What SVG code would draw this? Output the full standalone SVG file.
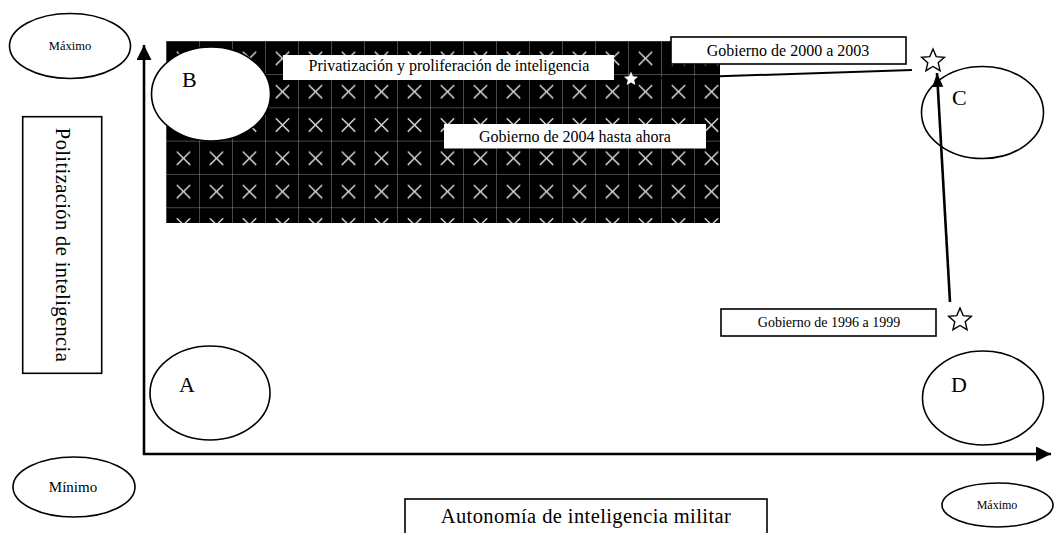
<svg xmlns="http://www.w3.org/2000/svg" width="1055" height="533" viewBox="0 0 1055 533">
<style>
text{font-family:"Liberation Serif","Times New Roman",serif;fill:#000}
.ol{fill:#fff;stroke:#000;stroke-width:1.6}
.box{fill:#fff;stroke:#000;stroke-width:1.6}
.wbox{fill:#fff;stroke:none}
.ax{stroke:#000;stroke-width:2.6;fill:none}
.big{font-size:22px}
.lbl{font-size:16px}
</style>
<defs>
<pattern id="grid" patternUnits="userSpaceOnUse" x="167" y="41.7" width="33" height="33.3">
<rect width="33" height="33.3" fill="#000"/>
<path d="M33 0V33.3M0 33.3H33" stroke="#a0a0a0" stroke-width="0.9"/>
<path d="M9.8 10L23.2 23.4M23.2 10L9.8 23.4" stroke="#d0d0d0" stroke-width="1.5"/>
</pattern>
<polygon id="star" points="0,-12 3.2,-4.4 11.41,-3.71 5.2,1.7 7.05,9.71 0,5.5 -7.05,9.71 -5.2,1.7 -11.41,-3.71 -3.2,-4.4"/>
<marker id="ah" markerUnits="userSpaceOnUse" markerWidth="16" markerHeight="16" refX="15" refY="7.5" orient="auto">
<path d="M0 0L15 7.5L0 15Z" fill="#000"/>
</marker>
<marker id="ah2" markerUnits="userSpaceOnUse" markerWidth="16" markerHeight="14" refX="14" refY="5.5" orient="auto">
<path d="M0 0L14 5.5L0 11Z" fill="#000"/>
</marker>
</defs>

<g id="region">
<rect x="166" y="41" width="554" height="182" fill="url(#grid)"/>
</g>

<g id="label-privatizacion">
<rect class="wbox" x="283" y="55" width="331" height="25"/>
<text class="lbl" x="449" y="70.5" text-anchor="middle">Privatización y proliferación de inteligencia</text>
</g>
<g id="label-2004">
<rect class="wbox" x="444" y="124" width="262" height="24.5"/>
<text class="lbl" x="575" y="141.5" text-anchor="middle">Gobierno de 2004 hasta ahora</text>
</g>
<g id="star-2004">
<use href="#star" transform="translate(631,79) scale(0.62)" fill="#fff"/>
</g>

<g id="connectors">
<line class="ax" x1="144" y1="455" x2="144" y2="45" marker-end="url(#ah)"/>
<line class="ax" x1="143" y1="454" x2="1051" y2="454" marker-end="url(#ah)"/>
<line x1="637" y1="79" x2="912" y2="70" stroke="#000" stroke-width="2"/>
<line x1="950" y1="302" x2="937" y2="73" stroke="#000" stroke-width="2.6" marker-end="url(#ah2)"/>
</g>

<g id="label-2000">
<rect class="box" x="671" y="37" width="235" height="27"/>
<text class="lbl" x="788" y="55.5" text-anchor="middle">Gobierno de 2000 a 2003</text>
</g>
<g id="star-2000">
<use href="#star" transform="translate(933,61)" fill="#fff" stroke="#000" stroke-width="1.4"/>
</g>
<g id="label-1996">
<rect class="box" x="721" y="309" width="215" height="27"/>
<text x="829" y="327" font-size="14" text-anchor="middle">Gobierno de 1996 a 1999</text>
</g>
<g id="star-1996">
<use href="#star" transform="translate(960,320)" fill="#fff" stroke="#000" stroke-width="1.4"/>
</g>

<g id="node-B">
<ellipse class="ol" cx="211" cy="94" rx="59.5" ry="47"/>
<text class="big" x="182" y="87">B</text>
</g>
<g id="node-A">
<ellipse cx="210" cy="393" rx="60" ry="47" fill="none" stroke="#000" stroke-width="1.6"/>
<text class="big" x="179" y="392">A</text>
</g>
<g id="node-C">
<ellipse cx="982.5" cy="112.5" rx="61" ry="46" fill="none" stroke="#000" stroke-width="1.6"/>
<text class="big" x="952" y="105">C</text>
</g>
<g id="node-D">
<ellipse cx="983" cy="398" rx="60.5" ry="47" fill="none" stroke="#000" stroke-width="1.6"/>
<text class="big" x="951" y="392">D</text>
</g>

<g id="max-y">
<ellipse class="ol" cx="70" cy="46" rx="60.5" ry="32.5"/>
<text x="70" y="50" font-size="12.5" text-anchor="middle">Máximo</text>
</g>
<g id="min">
<ellipse class="ol" cx="74" cy="487" rx="61" ry="30"/>
<text x="73" y="492" font-size="15" text-anchor="middle">Mínimo</text>
</g>
<g id="max-x">
<ellipse class="ol" cx="997.5" cy="505" rx="55.5" ry="22"/>
<text x="997" y="509" font-size="12" text-anchor="middle">Máximo</text>
</g>

<g id="y-label">
<rect class="box" x="22.7" y="116.7" width="79" height="256.6"/>
<text x="56" y="245" font-size="20.5" letter-spacing="0.4" text-anchor="middle" transform="rotate(90 56 245)">Politización de inteligencia</text>
</g>
<g id="x-label">
<rect class="box" x="405" y="499" width="362" height="40"/>
<text x="586" y="523" font-size="20.5" letter-spacing="0.4" text-anchor="middle">Autonomía de inteligencia militar</text>
</g>
</svg>
